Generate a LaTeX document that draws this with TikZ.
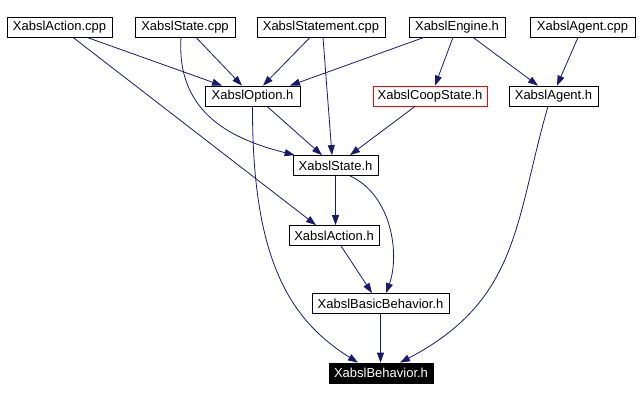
\documentclass[tikz,border=0pt]{standalone}
\usepackage{fontspec}
\setmainfont{Liberation Sans}
\usetikzlibrary{arrows.meta}
\definecolor{edgeblue}{RGB}{25,25,112}
\definecolor{coopred}{RGB}{255,0,0}
\tikzset{
  filebox/.style={draw=black, line width=0.8pt, fill=white, inner sep=0pt,
    minimum height=20pt, font=\fontsize{13pt}{15pt}\selectfont},
  redbox/.style={filebox, draw=coopred},
  mainbox/.style={filebox, fill=black, text=white},
  dep/.style={draw=edgeblue, line width=0.8pt, -{Triangle[length=10pt,width=7pt]}, edgeblue}
}
\begin{document}
\begin{tikzpicture}[x=1pt,y=-1pt]
\useasboundingbox[fill=white] (0,0) rectangle (639,401);
% top row
\node[filebox, minimum width=105pt] (acpp) at (59.5,27) {XabslAction.cpp};
\node[filebox, minimum width=100pt] (scpp) at (185,27) {XabslState.cpp};
\node[filebox, minimum width=128pt] (stcpp) at (321,27) {XabslStatement.cpp};
\node[filebox, minimum width=96pt] (engh) at (457,27) {XabslEngine.h};
\node[filebox, minimum width=105pt] (agcpp) at (582.5,27) {XabslAgent.cpp};
% second row
\node[filebox, minimum width=95pt] (opth) at (252.5,96) {XabslOption.h};
\node[redbox, minimum width=114pt] (coop) at (430,96) {XabslCoopState.h};
\node[filebox, minimum width=89pt] (agh) at (553.5,96) {XabslAgent.h};
% lower
\node[filebox, minimum width=85pt] (sth) at (335.5,165.5) {XabslState.h};
\node[filebox, minimum width=90pt] (acth) at (334,235.5) {XabslAction.h};
\node[filebox, minimum width=137pt] (bbh) at (380.5,303.5) {XabslBasicBehavior.h};
\node[mainbox, minimum width=104pt] (bh) at (381,373) {XabslBehavior.h};
% edges
\draw[dep] ([xshift=27.5pt]acpp.south) -- ([xshift=-30.5pt]opth.north);
\draw[dep] ([xshift=13.5pt]acpp.south) -- ([xshift=-18pt]acth.north);
\draw[dep] ([xshift=11pt]scpp.south) -- ([xshift=-10.5pt]opth.north);
\draw[dep] ([xshift=-4pt]scpp.south) .. controls (176,115) and (235,140) .. ([xshift=2pt]sth.north west);
\draw[dep] ([xshift=-11pt]stcpp.south) -- ([xshift=10.5pt]opth.north);
\draw[dep] ([xshift=2pt]stcpp.south) -- ([xshift=-3.5pt]sth.north);
\draw[dep] ([xshift=-33pt]engh.south) -- ([xshift=37.5pt]opth.north);
\draw[dep] ([xshift=-4pt]engh.south) -- ([xshift=5pt]coop.north);
\draw[dep] ([xshift=16pt]engh.south) -- ([xshift=-15.5pt]agh.north);
\draw[dep] ([xshift=-4.5pt]agcpp.south) -- ([xshift=3.5pt]agh.north);
\draw[dep] ([xshift=14.5pt]opth.south) -- ([xshift=-13.5pt]sth.north);
\draw[dep] (opth.south) .. controls (252,260) and (290,320) .. ([xshift=-23pt]bh.north);
\draw[dep] ([xshift=-15pt]coop.south) -- ([xshift=14.5pt]sth.north);
\draw[dep] ([xshift=-5.5pt]agh.south) .. controls (515,220) and (520,300) .. ([xshift=19pt]bh.north);
\draw[dep] (sth.south) -- (sth.south |- acth.north);
\draw[dep] ([xshift=14.5pt]sth.south) .. controls (392,195) and (400,255) .. ([xshift=5.5pt]bbh.north);
\draw[dep] ([xshift=7pt]acth.south) -- ([xshift=-8.5pt]bbh.north);
\draw[dep] (bbh.south) -- (bbh.south |- bh.north);
\end{tikzpicture}
\end{document}
